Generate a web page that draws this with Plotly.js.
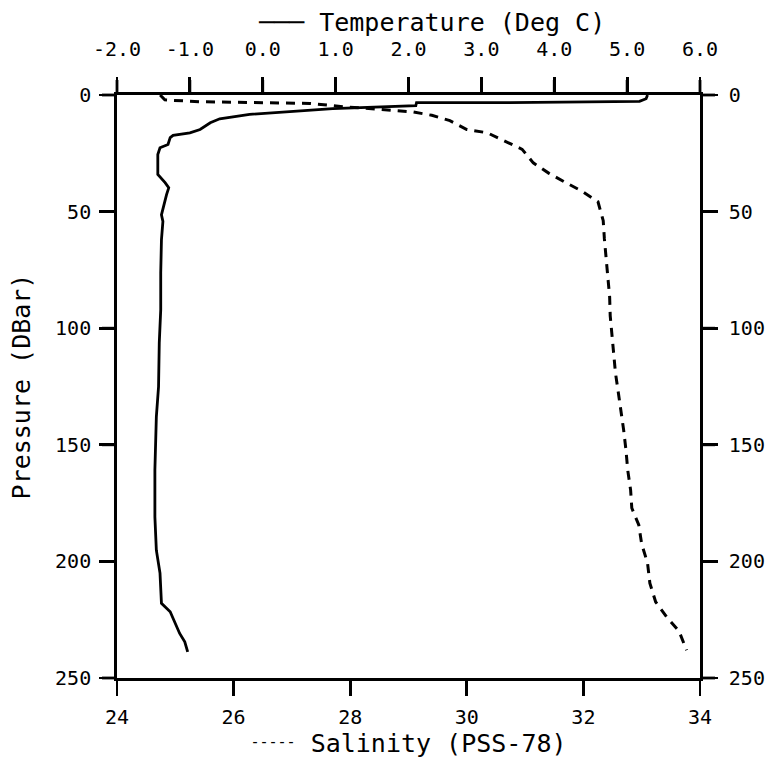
<!DOCTYPE html>
<html>
<head>
<meta charset="utf-8">
<script src="https://cdn.plot.ly/plotly-3.0.1.min.js"></script>
<style>html,body{margin:0;padding:0;background:#fff;}#chart{width:772px;height:769px;}</style>
</head>
<body>
<div id="chart"></div>
<script>
// Temperature profile (Deg C) vs pressure (DBar)
const tempPressure = [0, 1.6, 2.7, 3.3, 3.3, 4.6, 5.8, 6.9, 8.3, 10.2, 11.9, 14.8, 16.2, 17.3, 18.3, 21.2, 22.6, 25.5, 34.1, 37.6, 39.8, 42.7, 48.4, 51.4, 54.2, 62.1, 76.3, 92.1, 106.3, 125.1, 138, 155.1, 160.8, 180.9, 195.2, 205, 218, 221.6, 226.6, 230.9, 234.5, 238.8];
const temperature = [5.28, 5.26, 5.17, 3.39, 2.11, 2.10, 0.96, 0.51, -0.18, -0.59, -0.72, -0.86, -1.00, -1.23, -1.27, -1.30, -1.41, -1.44, -1.44, -1.34, -1.29, -1.32, -1.37, -1.39, -1.37, -1.39, -1.40, -1.40, -1.42, -1.43, -1.46, -1.47, -1.48, -1.48, -1.46, -1.41, -1.39, -1.27, -1.20, -1.14, -1.07, -1.03];

// Salinity profile (PSS-78) vs pressure (DBar)
const salPressure = [0, 2.1, 2.9, 3.6, 5.0, 6.2, 7.2, 8.7, 11.0, 14.8, 16.2, 18.8, 23.3, 29.1, 33.6, 37.6, 41.3, 45.8, 53.9, 61.7, 69.8, 78.0, 86.6, 94.7, 102.9, 110.6, 119.2, 127.8, 135.9, 143.6, 152.2, 160.8, 169.4, 177.1, 184.4, 192.6, 200.7, 209.3, 217.4, 223.9, 229.9, 238.1];
const salinity = [24.74, 24.82, 25.42, 27.31, 27.88, 28.63, 29.06, 29.40, 29.71, 30.00, 30.35, 30.57, 30.95, 31.14, 31.41, 31.70, 31.98, 32.25, 32.34, 32.36, 32.39, 32.42, 32.45, 32.46, 32.49, 32.52, 32.55, 32.60, 32.65, 32.69, 32.73, 32.76, 32.81, 32.83, 32.95, 33.00, 33.10, 33.14, 33.24, 33.43, 33.64, 33.77];

// Axis ranges and tick labels
const tempRange = [-2, 6];
const salRange = [24, 34];
const presRange = [250, 0];
const tempTicks = [-2, -1, 0, 1, 2, 3, 4, 5, 6];
const tempTickText = ['-2.0', '-1.0', '0.0', '1.0', '2.0', '3.0', '4.0', '5.0', '6.0'];
const salTicks = [24, 26, 28, 30, 32, 34];
const presTicks = [0, 50, 100, 150, 200, 250];

const FONT = 'DejaVu Sans Mono, monospace';
const LW = 2.8;
const TICKLEN = 15;
const W = 772, H = 769;
const M = {l: 117, r: 72, t: 95, b: 91, pad: 0};
const plotW = W - M.l - M.r, plotH = H - M.t - M.b;

const axisCommon = {
  showgrid: false, zeroline: false, showline: true, linecolor: '#000', linewidth: LW,
  ticks: 'outside', ticklen: TICKLEN, tickwidth: LW, tickcolor: '#000',
  tickfont: {family: FONT, size: 20, color: '#000'}
};

const traces = [
  {x: salinity, y: salPressure, xaxis: 'x', yaxis: 'y', type: 'scatter', mode: 'lines',
   line: {color: '#000', width: 3, dash: '9px,7px'}, name: 'Salinity', hoverinfo: 'x+y'},
  {x: temperature, y: tempPressure, xaxis: 'x2', yaxis: 'y', type: 'scatter', mode: 'lines',
   line: {color: '#000', width: LW}, name: 'Temperature', hoverinfo: 'x+y'},
  // carrier for the right-hand pressure axis (no visible mark)
  {x: salinity, y: salPressure, xaxis: 'x', yaxis: 'y2', type: 'scatter', mode: 'lines',
   line: {color: 'rgba(0,0,0,0)', width: 0}, hoverinfo: 'skip', showlegend: false}
];

// tick marks for the top (temperature) and both pressure sides, positioned on the axis ranges
const frac = (v, r) => (v - r[0]) / (r[1] - r[0]);
const tlx = TICKLEN / plotW, tly = TICKLEN / plotH;
const tickLine = {color: '#000', width: LW};
const shapes = []
  .concat(tempTicks.map(t => ({type: 'line', xref: 'paper', yref: 'paper', layer: 'above',
    x0: frac(t, tempRange), x1: frac(t, tempRange), y0: 1, y1: 1 + tly, line: tickLine})))
  .concat(presTicks.map(p => ({type: 'line', xref: 'paper', yref: 'paper', layer: 'above',
    y0: frac(p, presRange), y1: frac(p, presRange), x0: 1, x1: 1 + tlx, line: tickLine})))
  .concat(presTicks.map(p => ({type: 'line', xref: 'paper', yref: 'paper', layer: 'above',
    y0: frac(p, presRange), y1: frac(p, presRange), x0: -tlx, x1: 0, line: tickLine})));

const layout = {
  width: W, height: H,
  margin: M,
  paper_bgcolor: '#fff', plot_bgcolor: '#fff',
  showlegend: false,
  font: {family: FONT, color: '#000'},
  xaxis: Object.assign({}, axisCommon, {
    range: salRange, tickvals: salTicks, side: 'bottom', anchor: 'y',
    ticklabelstandoff: 4,
    title: {text: '<span style="font-size:15px;baseline-shift:5px">-----</span> Salinity (PSS-78)', font: {family: FONT, size: 25, color: '#000'}, standoff: 4}
  }),
  xaxis2: Object.assign({}, axisCommon, {
    range: tempRange, tickvals: tempTicks, ticktext: tempTickText, side: 'top', overlaying: 'x', anchor: 'y',
    ticklabelstandoff: 13
  }),
  yaxis: Object.assign({}, axisCommon, {
    range: presRange, tickvals: presTicks, side: 'left', anchor: 'x',
    ticklabelstandoff: 4,
    title: {text: 'Pressure (DBar)', font: {family: FONT, size: 25, color: '#000'}, standoff: 18}
  }),
  yaxis2: Object.assign({}, axisCommon, {
    range: presRange, tickvals: presTicks, side: 'right', overlaying: 'y', anchor: 'x',
    ticklabelstandoff: 7
  }),
  shapes: shapes,
  annotations: [{
    text: '─── Temperature (Deg C)', xref: 'paper', yref: 'paper',
    x: 0.54, y: 1.125, xanchor: 'center', yanchor: 'middle', showarrow: false,
    font: {family: FONT, size: 25, color: '#000'}
  }]
};

Plotly.newPlot('chart', traces, layout, {staticPlot: true, displayModeBar: false});
</script>
</body>
</html>
